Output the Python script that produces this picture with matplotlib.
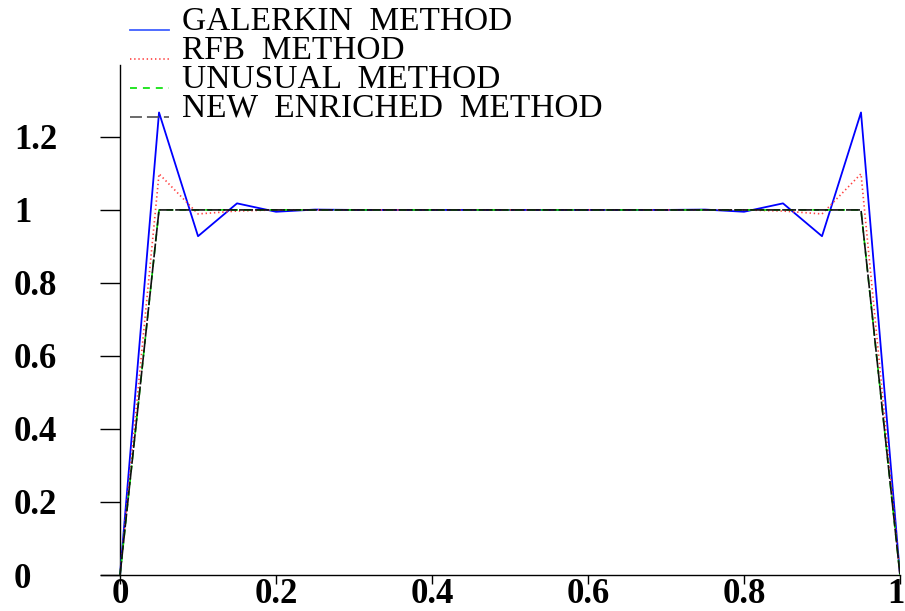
import matplotlib
matplotlib.use("Agg")
import matplotlib.pyplot as plt
from matplotlib.lines import Line2D
from matplotlib.transforms import offset_copy

plt.rcParams['font.family'] = ['Liberation Serif', 'DejaVu Serif']
plt.rcParams['lines.scale_dashes'] = False

# nodi della mesh, h = 0.05
x = [0.00, 0.05, 0.10, 0.15, 0.20, 0.25, 0.30, 0.35, 0.40, 0.45, 0.50,
     0.55, 0.60, 0.65, 0.70, 0.75, 0.80, 0.85, 0.90, 0.95, 1.00]

galerkin = [0.0, 1.267, 0.928, 1.018, 0.995, 1.001, 1.0, 1.0, 1.0, 1.0, 1.0,
            1.0, 1.0, 1.0, 1.0, 1.001, 0.995, 1.018, 0.928, 1.267, 0.0]
rfb = [0.0, 1.099, 0.989, 0.997, 1.0, 1.0, 1.0, 1.0, 1.0, 1.0, 1.0,
       1.0, 1.0, 1.0, 1.0, 1.0, 1.0, 0.997, 0.989, 1.099, 0.0]
unusual = [0.0, 1.0, 1.0, 1.0, 1.0, 1.0, 1.0, 1.0, 1.0, 1.0, 1.0,
           1.0, 1.0, 1.0, 1.0, 1.0, 1.0, 1.0, 1.0, 1.0, 0.0]
enriched = [0.0, 1.0, 1.0, 1.0, 1.0, 1.0, 1.0, 1.0, 1.0, 1.0, 1.0,
            1.0, 1.0, 1.0, 1.0, 1.0, 1.0, 1.0, 1.0, 1.0, 0.0]

labels = ["GALERKIN  METHOD", "RFB  METHOD", "UNUSUAL  METHOD", "NEW  ENRICHED  METHOD"]
xticks = [0, 0.2, 0.4, 0.6, 0.8, 1]
xtick_labels = ["0", "0.2", "0.4", "0.6", "0.8", "1"]
yticks = [0, 0.2, 0.4, 0.6, 0.8, 1, 1.2]
ytick_labels = ["0", "0.2", "0.4", "0.6", "0.8", "1", "1.2"]

W, H = 905, 611
fig = plt.figure(figsize=(W / 100, H / 100), dpi=100)
ax = fig.add_axes([101 / W, 36 / H, 799 / W, 510 / H])

stili = [
    dict(color='#0000ff', lw=1.3, ls='-'),
    dict(color='#ff4040', lw=1.2, ls=(0, (1, 2))),
    dict(color='#00e000', lw=1.2, ls=(0, (5, 4.3))),
    dict(color='#101010', lw=1.2, ls=(0, (10, 1.5))),
]
serie = [galerkin, rfb, unusual, enriched]

# ordine di disegno: rosso, verde, nero, blu sopra
for i in [1, 2, 3, 0]:
    ax.plot(x, serie[i], **stili[i], zorder=3 + i)

ax.set_xlim(-0.0244, 1.0)
ax.set_ylim(0, 1.397)

for s in ['top', 'right']:
    ax.spines[s].set_visible(False)
ax.spines['left'].set_position(('data', 0))
ax.spines['left'].set_linewidth(1.0)
ax.spines['bottom'].set_linewidth(1.0)

ax.set_xticks(xticks)
ax.set_xticklabels(xtick_labels)
ax.set_yticks(yticks)
ax.set_yticklabels(ytick_labels)
ax.tick_params(axis='x', direction='out', length=6.5, width=1.0, pad=-4.5,
               labelsize=25)
ax.tick_params(axis='y', direction='out', length=14.4, width=1.0, pad=61.9,
               labelsize=25)
for t in ax.get_xticklabels() + ax.get_yticklabels():
    t.set_fontweight('bold')
for t in ax.get_yticklabels():
    t.set_horizontalalignment('left')

# l'ultima etichetta "1" tocca il bordo: spostata di poco a sinistra
ultimo = ax.xaxis.get_major_ticks()[-1].label1
ultimo.set_transform(offset_copy(ultimo.get_transform(), fig=fig, x=-4, y=0, units='dots'))

# LEGENDA manuale, linea sulla baseline del testo
for i, lab in enumerate(labels):
    yb = 1 - (30 + 29 * i) / H
    st = stili[i]
    col = st['color']
    ls = st['ls']
    if i == 0:
        col = '#4060ff'
    if i == 3:
        col = '#505050'
        ls = (0, (8.6, 3.6))
    fig.add_artist(Line2D([130 / W, 169 / W], [yb, yb], color=col,
                          lw=st['lw'], ls=ls, transform=fig.transFigure))
    fig.text(182 / W, yb, lab, fontsize=24, va='baseline', ha='left')

fig.savefig("out.png", dpi=100)
